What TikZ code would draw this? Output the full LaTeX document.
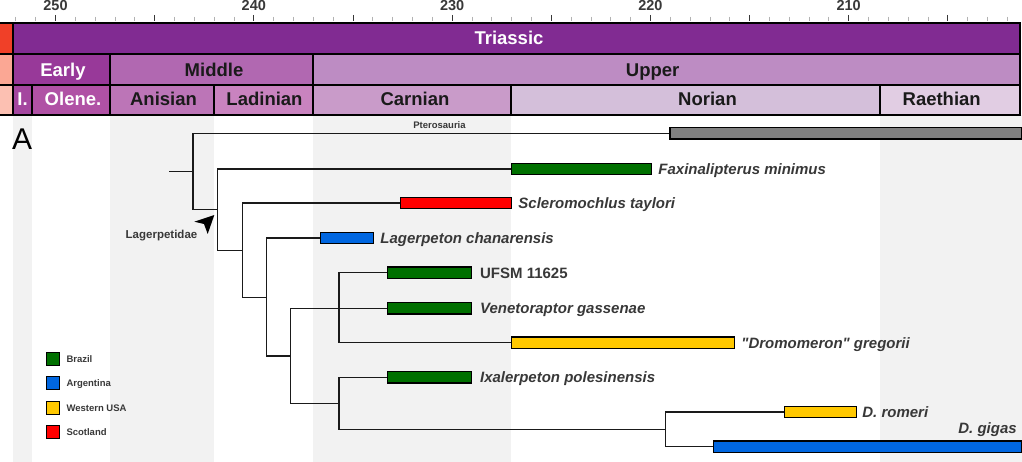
\documentclass[tikz,border=0pt]{standalone}
\usepackage{fontspec}
\setmainfont{Liberation Sans}[Ligatures=TeXOff]
\usepackage{xcolor}
\usetikzlibrary{positioning}

\definecolor{permian}{HTML}{F04028}
\definecolor{triassic}{HTML}{812B92}
\definecolor{lopingian}{HTML}{FBA794}
\definecolor{changhs}{HTML}{FCC0B2}
\definecolor{early}{HTML}{983999}
\definecolor{middle}{HTML}{B168B1}
\definecolor{upper}{HTML}{BD8CC3}
\definecolor{induan}{HTML}{A4469F}
\definecolor{olenek}{HTML}{B051A5}
\definecolor{anisian}{HTML}{BC75B7}
\definecolor{ladinian}{HTML}{C983BF}
\definecolor{carnian}{HTML}{C99BC9}
\definecolor{norian}{HTML}{D4BFDA}
\definecolor{raeth}{HTML}{E1CDE3}
\definecolor{band}{HTML}{F2F2F2}
\definecolor{txt}{HTML}{383838}
\definecolor{ink}{HTML}{1A1A1A}
\definecolor{brazil}{HTML}{007000}
\definecolor{argentina}{HTML}{0066E0}
\definecolor{usa}{HTML}{FFC800}
\definecolor{scotland}{HTML}{FF0000}
\definecolor{ptero}{HTML}{808080}

\begin{document}
\begin{tikzpicture}[x=1pt, y=-1pt,
	stage/.style={draw=black, line width=2pt},
	era/.style={font=\fontsize{18.5}{20}\bfseries\selectfont, anchor=base, inner sep=0pt, text=ink},
	bar/.style={draw=black, line width=1.2pt, minimum height=11.5pt, inner sep=0pt, anchor=west},
	taxon/.style={font=\fontsize{15}{17}\bfseries\itshape\selectfont, text=txt, inner sep=0pt, text height=13.8pt, text depth=3pt},
	branch/.style={draw=ink, line width=1.4pt},
	key/.style={draw=black, line width=1pt, minimum size=13pt, inner sep=0pt},
	keylbl/.style={font=\fontsize{9.5}{11}\bfseries\selectfont, text=txt, inner sep=0pt, text height=8.8pt, text depth=2pt}]
	\useasboundingbox (0,0) rectangle (1022,462);

	\fill[band] (13,115) rectangle (32,462);
	\fill[band] (110,115) rectangle (214,462);
	\fill[band] (313,115) rectangle (511,462);
	\fill[band] (880,115) rectangle (1022,462);

	\foreach \t in {202,...,252}
		\draw[gray!60, line width=0.8pt] ({55.5+(250-\t)*19.83},16.7) -- ({55.5+(250-\t)*19.83},21.5);
	\foreach \t in {205,210,...,250}
		\draw[txt, line width=0.9pt] ({55.5+(250-\t)*19.83},15) -- ({55.5+(250-\t)*19.83},21.5);
	\foreach \t in {210,220,...,250}
		\node[font=\fontsize{14.5}{16}\bfseries\selectfont, text=txt, anchor=base, inner sep=0pt] (ma\t) at ({55.5+(250-\t)*19.83},11) {\t};

	\filldraw[stage, fill=permian] (-5,23) rectangle (13,54);
	\filldraw[stage, fill=triassic] (13,23) rectangle (1020,54);
	\filldraw[stage, fill=lopingian] (-5,54) rectangle (13,85);
	\filldraw[stage, fill=early] (13,54) rectangle (110,85);
	\filldraw[stage, fill=middle] (110,54) rectangle (313,85);
	\filldraw[stage, fill=upper] (313,54) rectangle (1020,85);
	\filldraw[stage, fill=changhs] (-5,85) rectangle (13,115);
	\filldraw[stage, fill=induan] (13,85) rectangle (32,115);
	\filldraw[stage, fill=olenek] (32,85) rectangle (110,115);
	\filldraw[stage, fill=anisian] (110,85) rectangle (214,115);
	\filldraw[stage, fill=ladinian] (214,85) rectangle (313,115);
	\filldraw[stage, fill=carnian] (313,85) rectangle (511,115);
	\filldraw[stage, fill=norian] (511,85) rectangle (880,115);
	\filldraw[stage, fill=raeth] (880,85) rectangle (1020,115);

	\node[era, text=white] (triassic) at (509,45) {Triassic};
	\node[era, text=white] (early) at (63,77) {Early};
	\node[era] (middle) at (214,77) {Middle};
	\node[era] (upper) at (652.7,77) {Upper};
	\node[era, text=white] (induan) at (22.5,106) {I.};
	\node[era, text=white] (olenek) at (73,106) {Olene.};
	\node[era] (anisian) at (163.5,106) {Anisian};
	\node[era] (ladinian) at (264.5,106) {Ladinian};
	\node[era] (carnian) at (415,106) {Carnian};
	\node[era] (norian) at (707.5,106) {Norian};
	\node[era] (raeth) at (941.7,106) {Raethian};

	\node[font=\fontsize{30}{32}\selectfont, anchor=base west, inner sep=0pt] (panel) at (12,150) {A};

	\node[bar, fill=ptero, minimum width=352pt] (ptero) at (669.3,133.3) {};
	\node[bar, fill=brazil, minimum width=140pt] (faxi) at (511,169) {};
	\node[bar, fill=scotland, minimum width=111pt] (scler) at (400,203) {};
	\node[bar, fill=argentina, minimum width=53pt] (lager) at (320,238) {};
	\node[bar, fill=brazil, minimum width=83.7pt] (ufsm) at (387,272.7) {};
	\node[bar, fill=brazil, minimum width=83.7pt] (veneto) at (387,308.3) {};
	\node[bar, fill=usa, minimum width=223pt] (dromo) at (511,342.7) {};
	\node[bar, fill=brazil, minimum width=83.7pt] (ixal) at (387,377.3) {};
	\node[bar, fill=usa, minimum width=72pt] (romeri) at (784,412) {};
	\node[bar, fill=argentina, minimum width=307.7pt] (gigas) at (713,446.7) {};

	\node[font=\fontsize{9.5}{11}\bfseries\selectfont, text=txt, anchor=base, inner sep=0pt] (pterolbl) at (439.5,128.3) {Pterosauria};
	\node[taxon, right=6pt of faxi] (faxilbl) {Faxinalipterus minimus};
	\node[taxon, right=6pt of scler] (sclerlbl) {Scleromochlus taylori};
	\node[taxon, right=6pt of lager] (lagerlbl) {Lagerpeton chanarensis};
	\node[taxon, right=8pt of ufsm] (ufsmlbl) {\upshape UFSM 11625};
	\node[taxon, right=8pt of veneto] (venetolbl) {Venetoraptor gassenae};
	\node[taxon, right=6pt of dromo] (dromolbl) {"Dromomeron" gregorii};
	\node[taxon, right=8pt of ixal] (ixallbl) {Ixalerpeton polesinensis};
	\node[taxon, right=5pt of romeri] (romerilbl) {D. romeri};
	\node[taxon, above left=4pt and 5pt of gigas.north east] (gigaslbl) {D. gigas};

	\coordinate (root) at (169,171.5);
	\coordinate (n1) at (193,171.5);
	\coordinate (n2) at (217.7,209.3);
	\coordinate (n3) at (242.3,250.7);
	\coordinate (n4) at (266.7,297.3);
	\coordinate (n5) at (290.7,356);
	\coordinate (n6) at (339,308.3);
	\coordinate (n7) at (339,403.3);
	\coordinate (n8) at (665.7,429.3);

	\draw[branch] (root) -- (n1);
	\draw[branch] (n1) |- (ptero.west);
	\draw[branch] (n1) |- (n2);
	\draw[branch] (n2) |- (faxi.west);
	\draw[branch] (n2) |- (n3);
	\draw[branch] (n3) |- (scler.west);
	\draw[branch] (n3) |- (n4);
	\draw[branch] (n4) |- (lager.west);
	\draw[branch] (n4) |- (n5);
	\draw[branch] (n5) |- (n6);
	\draw[branch] (n5) |- (n7);
	\draw[branch] (n6) |- (ufsm.west);
	\draw[branch] (n6) |- (veneto.west);
	\draw[branch] (n6) |- (dromo.west);
	\draw[branch] (n7) |- (ixal.west);
	\draw[branch] (n7) |- (n8);
	\draw[branch] (n8) |- (romeri.west);
	\draw[branch] (n8) |- (gigas.west);

	\node[font=\fontsize{11.5}{13}\bfseries\selectfont, text=txt, anchor=base, inner sep=0pt] (lagerpetidae) at (161.5,238.3) {Lagerpetidae};
	\fill[black] (214.3,215) -- (194.3,221.7) -- (204,224) -- (207.7,234) -- cycle;

	\node[key, fill=brazil] (kbrazil) at (53.3,359) {};
	\node[keylbl, right=6pt of kbrazil] {Brazil};
	\node[key, fill=argentina] (kargentina) at (53.3,383.3) {};
	\node[keylbl, right=6pt of kargentina] {Argentina};
	\node[key, fill=usa] (kusa) at (53.3,407.7) {};
	\node[keylbl, right=6pt of kusa] {Western USA};
	\node[key, fill=scotland] (kscotland) at (53.3,431.7) {};
	\node[keylbl, right=6pt of kscotland] {Scotland};
\end{tikzpicture}
\end{document}
